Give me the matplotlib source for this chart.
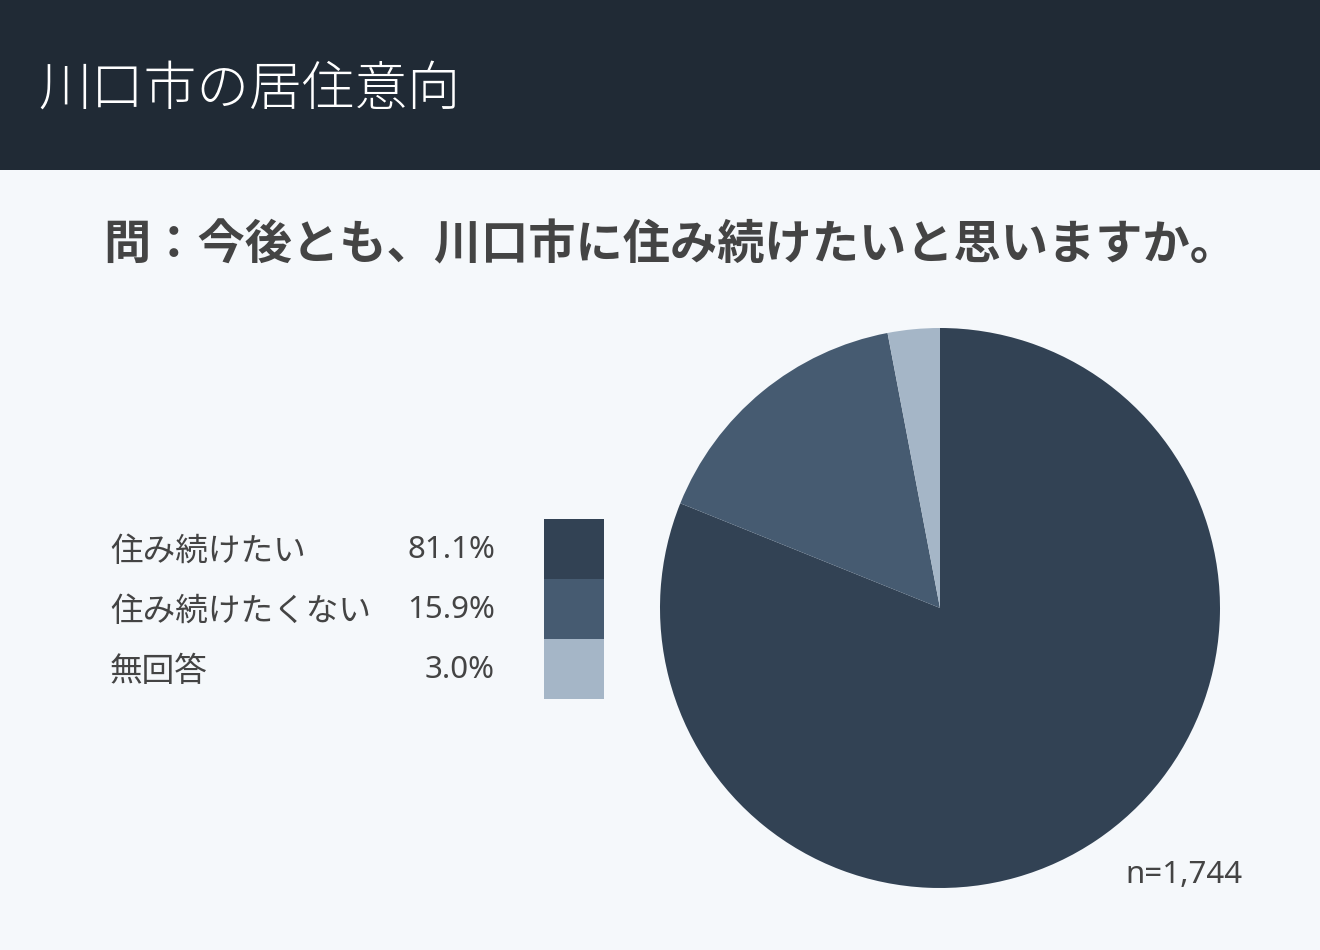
import matplotlib.pyplot as plt
from matplotlib.patches import Rectangle

plt.rcParams['font.family'] = ['Noto Sans CJK JP', 'DejaVu Sans']

# donnees
labels = ['住み続けたい', '住み続けたくない', '無回答']
values = [81.1, 15.9, 3.0]
colors = ['#324254', '#465b71', '#a5b6c7']
title = '川口市の居住意向'
question = '問：今後とも、川口市に住み続けたいと思いますか。'
n_text = 'n=1,744'

W, H = 1320, 950
fig = plt.figure(figsize=(W / 100, H / 100), dpi=100)
fig.patch.set_facecolor('#f5f8fb')
num_font = ['Noto Sans', 'Noto Sans CJK JP']

# bandeau du haut
fig.patches.append(Rectangle((0, 1 - 170 / H), 1, 170 / H, transform=fig.transFigure,
                             facecolor='#202a35', edgecolor='none', zorder=0))
fig.text(38 / W, 1 - 90 / H, title, color='white', fontsize=38, fontweight='light',
         va='center', ha='left')

fig.text(670 / W, 1 - 245 / H, question, color='#444444', fontsize=34,
         fontweight='bold', va='center', ha='center')

# camembert
cx, cy, r = 940, 608, 280
ax = fig.add_axes([(cx - r) / W, (H - cy - r) / H, 2 * r / W, 2 * r / H])
ax.pie(values, colors=colors, startangle=90, counterclock=False,
       wedgeprops={'linewidth': 0})
ax.set_xlim(-1, 1)
ax.set_ylim(-1, 1)
ax.axis('off')

# legende
for i, (lab, v, c) in enumerate(zip(labels, values, colors)):
    yc = 549 + 60 * i
    fig.text(110 / W, 1 - (yc + 3) / H, lab, color='#444444', fontsize=23.5,
             va='center', ha='left')
    fig.text(495 / W, 1 - (yc + 1) / H, f'{v:.1f}%', color='#444444', fontsize=22.5,
             family=num_font, va='center', ha='right')
    fig.patches.append(Rectangle((544 / W, 1 - (yc + 30) / H), 60 / W, 60 / H,
                                 transform=fig.transFigure, facecolor=c,
                                 edgecolor='none'))

fig.text(1243 / W, 1 - 875 / H, n_text, color='#444444', fontsize=22.5,
         family=num_font, va='center', ha='right')

fig.savefig('out.png', dpi=100, facecolor=fig.get_facecolor())
